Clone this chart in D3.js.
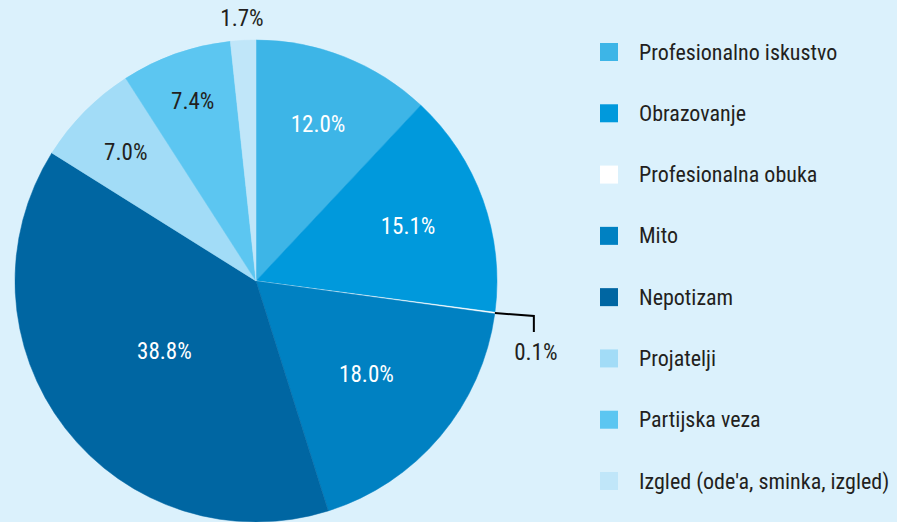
<!DOCTYPE html>
<html>
<head>
<meta charset="utf-8">
<script src="https://cdn.jsdelivr.net/npm/d3@7"></script>
<style>
  html, body { margin: 0; padding: 0; background: #dbf1fc; }
  svg { display: block; }
  text { font-family: "Liberation Sans Narrow", "Roboto Condensed", "Roboto", sans-serif; }
</style>
</head>
<body>
<svg width="897" height="522"></svg>
<script>
'use strict';

// Data.
const categories = [
  'Profesionalno iskustvo',
  'Obrazovanje',
  'Profesionalna obuka',
  'Mito',
  'Nepotizam',
  'Projatelji',
  'Partijska veza',
  "Izgled (ode'a, sminka, izgled)"
];
const values = [12.0, 15.1, 0.1, 18.0, 38.8, 7.0, 7.4, 1.7];
const colors = ['#3db5e7', '#0099dc', '#ffffff', '#0081c2', '#0066a2', '#a2dcf7', '#5cc6f1', '#c0e6f9'];

// Label layout (fraction of radius at which each label sits, and its text colour).
const labelRadius = [0.70, 0.67, null, 0.60, 0.48, 0.76, 0.79, 1.09];
const labelColor = ['#fff', '#fff', '#231f20', '#fff', '#fff', '#231f20', '#231f20', '#231f20'];

const w = 897;
const h = 522;
const cx = 256;
const cy = 281;
const radius = 241;
const labelSize = 23;

const svg = d3.select('svg');

const data = categories.map((name, i) => ({
  name: name,
  value: values[i],
  color: colors[i],
  labelR: labelRadius[i],
  labelColor: labelColor[i]
}));

const pie = d3.pie()
  .sort(null)
  .value(d => d.value);

const arcs = pie(data);

const arc = d3.arc()
  .innerRadius(0)
  .outerRadius(radius);

const g = svg.append('g')
  .attr('transform', `translate(${cx}, ${cy})`);

// Slices
g.selectAll('path.slice')
  .data(arcs)
  .enter()
  .append('path')
  .attr('class', 'slice')
  .attr('d', arc)
  .attr('fill', d => d.data.color)
  .attr('stroke', d => d.data.color)
  .attr('stroke-width', 0.5)
  ;

// Labels inside / near slices
const fmt = d3.format('.1f');

g.selectAll('text.label')
  .data(arcs.filter(d => d.data.labelR !== null))
  .enter()
  .append('text')
  .attr('class', 'label')
  .attr('text-anchor', 'middle')
  .attr('dominant-baseline', 'central')
  .attr('font-size', labelSize)
  .attr('fill', d => d.data.labelColor)
  .attr('transform', d => {
    const r = radius * d.data.labelR;
    const a = (d.startAngle + d.endAngle) / 2;
    return `translate(${Math.sin(a) * r}, ${-Math.cos(a) * r})`;
  })
  .text(d => fmt(d.data.value) + '%')
  ;

// Tiny slice with a leader line
const tiny = arcs[2];
const ta = (tiny.startAngle + tiny.endAngle) / 2;
const p0 = [Math.sin(ta) * radius, -Math.cos(ta) * radius];
const p1 = [p0[0] + 39, p0[1] + 3];
const p2 = [p1[0], p1[1] + 16];

g.append('path')
  .attr('d', d3.line()([p0, p1, p2]))
  .attr('fill', 'none')
  .attr('stroke', '#000')
  .attr('stroke-width', 2)
  ;

g.append('text')
  .attr('text-anchor', 'middle')
  .attr('dominant-baseline', 'central')
  .attr('font-size', labelSize)
  .attr('fill', '#231f20')
  .attr('x', p2[0] + 2)
  .attr('y', p2[1] + 20)
  .text(fmt(tiny.data.value) + '%')
  ;

// Legend
const legendY = d3.scalePoint()
  .domain(categories)
  .range([52, 481]);

const legend = svg.append('g')
  .attr('class', 'legend')
  .selectAll('g')
  .data(data)
  .enter()
  .append('g')
  .attr('transform', d => `translate(600, ${legendY(d.name)})`)
  ;

legend.append('rect')
  .attr('x', 0)
  .attr('y', -9)
  .attr('width', 18)
  .attr('height', 18)
  .attr('fill', d => d.color)
  ;

legend.append('text')
  .attr('x', 39)
  .attr('y', 0)
  .attr('dominant-baseline', 'central')
  .attr('font-size', 22)
  .attr('fill', '#231f20')
  .text(d => d.name)
  ;
</script>
</body>
</html>
